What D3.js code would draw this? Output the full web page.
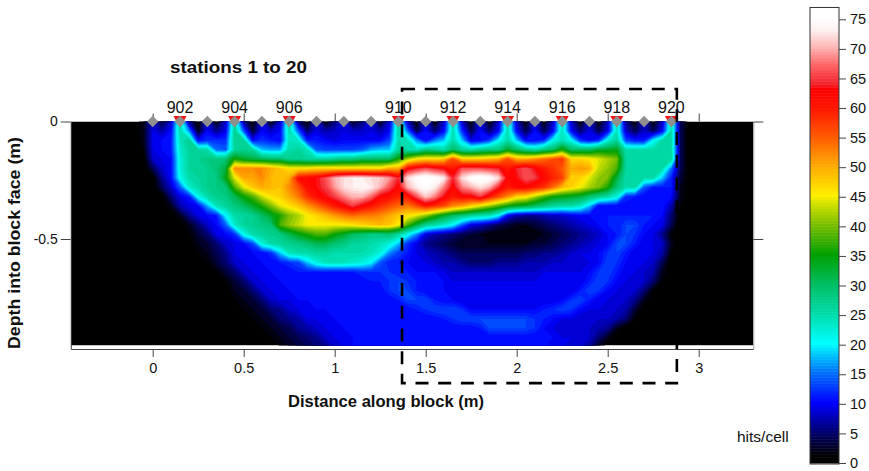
<!DOCTYPE html>
<html>
<head>
<meta charset="utf-8">
<script src="https://cdn.jsdelivr.net/npm/d3@7"></script>
<style>
html,body{margin:0;padding:0;background:#fff;}
svg{display:block;}
text{font-family:"Liberation Sans",Arial,sans-serif;fill:#111;}
</style>
</head>
<body>
<svg id="chart" width="869" height="471"></svg>
<script>
const gridX0 = -0.10, gridDx = 0.05, gridDy = 0.04;
const hitRows = [
[0,2,8,3,8,25,6,1,9,1,8,25,6,1,9,1,8,25,5,1,9,1,5,9,2,5,9,2,8,25,8,1,10,1,8,25,8,1,10,1,8,25,8,1,10,1,8,25,8,1,9,1,8,25,6,1,9,1,8,24,4,0,0],
[0,2,9,7,10,25,16,2,10,6,9,27,14,3,10,8,10,25,14,5,9,7,8,9,8,8,9,7,10,26,15,4,10,5,10,25,12,4,10,5,10,25,10,4,10,4,10,24,10,5,9,4,9,24,8,4,8,4,10,25,4,0,0],
[0,2,9,10,11,24,27,10,12,12,12,27,26,10,12,11,10,24,23,11,11,10,9,10,10,10,10,10,13,25,24,16,10,15,18,25,18,9,10,13,20,25,18,10,10,12,21,24,21,12,10,12,22,26,13,11,11,20,25,25,4,0,0],
[0,1,9,10,11,23,26,26,25,15,14,26,27,26,18,17,17,25,26,24,14,13,13,13,13,14,17,18,18,26,25,24,28,27,25,30,26,25,27,28,28,33,30,27,25,28,30,36,30,30,30,33,33,34,25,25,25,25,25,25,4,0,0],
[0,0,8,9,10,22,26,27,28,28,29,36,33,32,31,30,30,27,27,26,26,26,27,28,28,30,30,30,30,36,42,46,47,47,48,56,48,48,48,49,50,56,50,50,52,54,56,58,47,47,46,44,42,40,26,25,25,25,26,26,4,0,0],
[0,0,4,8,10,22,26,26,27,29,32,52,52,52,52,50,48,46,46,46,47,47,47,47,47,47,47,47,50,50,62,64,66,64,63,60,66,66,66,65,64,60,64,66,63,60,58,55,50,51,50,43,41,38,26,25,25,25,25,15,4,0,0],
[0,0,0,6,10,21,25,26,27,28,34,44,50,50,52,49,48,50,61,62,63,66,70,72,73,73,72,71,69,64,72,75,76,75,73,64,72,75,76,75,72,62,63,66,65,62,59,57,47,47,44,41,40,32,25,25,25,25,18,11,3,0,0],
[0,0,0,4,8,14,23,25,27,28,29,38,44,48,50,49,48,52,56,61,63,65,69,72,73,74,73,70,66,62,70,73,75,73,68,62,68,70,72,70,64,60,62,62,60,58,54,49,47,45,42,40,36,29,25,25,14,11,11,11,2,0,0],
[0,0,0,0,5,9,11,21,25,27,28,31,35,38,43,46,47,50,53,58,61,63,65,68,70,70,67,62,61,59,60,66,71,68,63,60,62,62,65,60,56,52,47,46,42,38,35,34,33,32,29,27,25,22,12,11,10,10,10,10,2,0,0],
[0,0,0,0,2,7,9,10,17,24,26,28,30,33,36,40,44,46,48,51,54,57,60,62,65,62,60,58,56,54,53,56,60,58,56,52,50,47,44,41,38,35,33,32,30,28,26,25,25,23,18,10,10,10,10,10,10,10,11,7,1,0,0],
[0,0,0,0,0,2,6,9,10,11,20,25,26,27,30,33,36,40,42,45,47,49,51,53,54,53,53,52,50,48,46,44,41,37,33,30,28,26,25,24,20,10,7,6,6,7,8,8,9,10,10,10,11,11,11,11,11,11,10,5,0,0,0],
[0,0,0,0,0,0,2,5,8,10,14,23,26,27,28,29,38,41,43,45,45,45,45,45,46,47,48,49,48,45,38,32,27,25,23,20,14,9,8,6,4,3,2,2,3,4,5,6,7,8,9,10,11,11,13,13,11,10,9,4,0,0,0],
[0,0,0,0,0,0,1,3,5,9,10,12,21,25,26,27,28,31,34,36,38,38,35,33,30,29,28,28,29,26,21,16,9,7,6,5,4,3,2,1,1,1,1,1,1,2,3,4,5,6,7,8,10,11,13,12,10,9,6,1,0,0,0],
[0,0,0,0,0,0,0,2,3,5,8,9,10,13,22,25,26,27,28,29,31,31,29,28,26,26,25,24,22,18,12,9,6,5,4,3,2,2,2,2,2,2,2,2,3,3,4,5,6,7,8,9,10,13,13,11,9,9,8,2,0,0,0],
[0,0,0,0,0,0,0,1,2,4,6,9,9,10,10,12,18,24,25,25,26,26,25,25,25,25,24,22,16,13,11,9,8,7,6,5,4,4,4,4,4,4,4,5,5,6,6,7,8,9,9,10,12,13,11,9,9,9,7,1,0,0,0],
[0,0,0,0,0,0,0,0,1,3,5,8,9,9,10,10,11,12,13,18,22,24,24,24,23,22,20,14,11,11,10,9,9,8,7,7,6,5,5,5,6,6,6,7,7,7,8,8,8,8,9,10,13,12,10,9,9,8,4,0,0,0,0],
[0,0,0,0,0,0,0,0,0,1,3,5,8,9,9,10,10,10,11,11,11,11,11,11,11,12,12,12,12,11,11,10,10,10,9,8,8,8,8,8,8,8,8,8,8,9,9,9,9,9,10,12,13,11,9,9,8,7,2,0,0,0,0],
[0,0,0,0,0,0,0,0,0,0,1,3,5,8,9,9,10,10,10,10,10,10,10,10,10,10,11,11,12,13,12,11,10,10,10,9,9,9,9,9,9,9,9,9,9,9,9,9,9,9,11,13,12,10,9,8,8,5,1,0,0,0,0],
[0,0,0,0,0,0,0,0,0,0,0,2,3,5,8,9,9,10,10,10,10,10,10,10,10,10,10,10,12,13,13,11,10,10,10,9,9,9,9,9,9,9,9,9,9,9,9,9,9,11,13,12,10,9,8,8,5,1,0,0,0,0,0],
[0,0,0,0,0,0,0,0,0,0,0,1,2,3,5,8,9,9,10,10,10,10,10,10,10,10,10,10,10,11,13,13,13,11,10,10,9,9,9,9,9,9,9,9,9,9,9,10,12,13,11,9,9,8,8,6,2,0,0,0,0,0,0],
[0,0,0,0,0,0,0,0,0,0,0,0,1,2,3,5,6,8,9,9,10,10,10,10,10,10,10,10,10,10,10,11,12,13,13,13,12,10,10,10,10,10,10,10,10,11,12,13,12,10,9,9,8,8,7,3,0,0,0,0,0,0,0],
[0,0,0,0,0,0,0,0,0,0,0,0,0,1,2,3,5,6,7,9,9,9,10,10,10,10,10,10,10,10,10,10,10,10,11,12,13,13,13,13,13,13,13,13,12,11,10,9,9,8,8,8,8,7,5,1,0,0,0,0,0,0,0],
[0,0,0,0,0,0,0,0,0,0,0,0,0,0,1,2,3,4,6,7,8,9,9,10,10,10,10,10,10,10,10,10,10,10,10,10,10,10,11,13,13,13,13,13,12,10,9,8,8,8,8,7,6,2,0,0,0,0,0,0,0,0,0],
[0,0,0,0,0,0,0,0,0,0,0,0,0,0,0,1,2,3,4,5,6,8,9,9,10,10,10,10,10,10,10,10,10,10,10,10,10,10,10,10,10,10,10,10,10,10,10,9,9,8,8,5,2,0,0,0,0,0,0,0,0,0,0],
[0,0,0,0,0,0,0,0,0,0,0,0,0,0,0,0,1,2,3,4,5,6,8,9,10,10,10,10,10,10,10,10,10,10,10,10,10,10,10,10,10,10,10,10,10,10,9,9,8,8,6,2,0,0,0,0,0,0,0,0,0,0,0]
];
const colorStops = [0,1,5,10,15,20,25,30,35,40,44,45,50,55,60,63,64,67,70,73,75,77];
const colorValues = ["#000000","#000000","#00006e","#0000ff","#006eff","#00ffff","#00dcaa","#00be64","#00a000","#78be00","#dce600","#fff000","#ffaa00","#ff5a00","#ff1400","#ff0000","#f02832","#ff6464","#ffb4b4","#fff0f0","#ffffff","#ffffff"];
const xTicks = [0,0.5,1,1.5,2,2.5,3];
const yTicks = [0,-0.5];
const legendTicks = d3.range(0,80,5);
const stationX = [0,0.15,0.3,0.45,0.6,0.75,0.9,1.05,1.2,1.35,1.5,1.65,1.8,1.95,2.1,2.25,2.4,2.55,2.7,2.85];
const sourceX = [0.15,0.45,0.75,1.35,1.65,1.95,2.25,2.55,2.85];
const sourceLabels = ["902","904","906","910","912","914","916","918","920"];
const boxX = [1.37,2.88];
const boxY = [0.138,-1.113];

const svg = d3.select("#chart");
const x = d3.scaleLinear().domain([-0.45,3.3]).range([70.8,753.3]);
const y = d3.scaleLinear().domain([0,-0.968]).range([121.5,349]);
const imageBottom = -0.953;
const color = d3.scaleLinear().domain(colorStops).range(colorValues).clamp(true);

const clip = svg.append("defs").append("clipPath").attr("id","img");
clip.append("rect").attr("x",x(-0.45)).attr("y",y(0)).attr("width",x(3.3)-x(-0.45)).attr("height",y(imageBottom)-y(0));

const img = svg.append("g").attr("clip-path","url(#img)");
img.append("rect").attr("x",x(-0.45)).attr("y",y(0)).attr("width",x(3.3)-x(-0.45)).attr("height",y(imageBottom)-y(0)).attr("fill","#000");

const nRows = hitRows.length, nCols = hitRows[0].length;
const contours = d3.contours().size([nCols,nRows]).smooth(true).thresholds(d3.range(1,77,1))(hitRows.flat());
const proj = d3.geoTransform({point(px,py){
  this.stream.point(x(gridX0+gridDx*(px-0.5)), y(-gridDy*(py-0.5)));
}});
const path = d3.geoPath(proj);
img.selectAll("path.band").data(contours).join("path").attr("class","band")
  .attr("d",path).attr("fill",d=>color(d.value+0.5));

const axisColor = "#444";
function styleAxis(g,size){
  g.selectAll("path.domain").attr("stroke",axisColor);
  g.selectAll("line").attr("stroke",axisColor);
  g.selectAll("text").style("font-size",size+"px").style("font-family",'"Liberation Sans",Arial,sans-serif').attr("fill","#111");
}
const gB = svg.append("g").attr("transform",`translate(0,${y(-0.968)})`)
  .call(d3.axisBottom(x).tickValues(xTicks).tickFormat(d=>String(d)).tickSize(8).tickSizeOuter(0));
gB.selectAll("text").attr("dy","0").attr("y",24);
styleAxis(gB,14.5);
const gL = svg.append("g").attr("transform",`translate(${x(-0.45)},0)`)
  .call(d3.axisLeft(y).tickValues(yTicks).tickFormat(d=>String(d)).tickSize(10).tickSizeOuter(0));
gL.selectAll("text").attr("x",-13);
styleAxis(gL,14);
const gR = svg.append("g").attr("transform",`translate(${x(3.3)},0)`)
  .call(d3.axisRight(y).tickValues(yTicks).tickFormat("").tickSize(10).tickSizeOuter(0));
styleAxis(gR,14);
gR.select("path.domain").attr("stroke","#999");
const gT = svg.append("g").attr("transform",`translate(0,${y(0)})`)
  .call(d3.axisTop(x).tickValues(xTicks).tickFormat("").tickSize(8).tickSizeOuter(0));
gT.select("path.domain").remove();
styleAxis(gT,14);

svg.append("g").selectAll("path").data(sourceX).join("path")
  .attr("d",d3.symbol(d3.symbolTriangle,75))
  .attr("transform",d=>`translate(${x(d)},${y(0)-1.8}) rotate(180)`).attr("fill","#f01414");
svg.append("g").selectAll("path").data(stationX).join("path")
  .attr("d",d3.symbol(d3.symbolSquare,64))
  .attr("transform",d=>`translate(${x(d)},${y(0)}) rotate(45)`).attr("fill","#8f8f8f");

svg.append("g").selectAll("text").data(sourceX).join("text")
  .attr("x",d=>x(d)).attr("y",113).attr("text-anchor","middle").style("font-size","16px")
  .text((d,i)=>sourceLabels[i]);

svg.append("rect").attr("x",x(boxX[0])).attr("y",y(boxY[0])).attr("width",x(boxX[1])-x(boxX[0])).attr("height",y(boxY[1])-y(boxY[0]))
  .attr("fill","none").attr("stroke","#000").attr("stroke-width",2.6).attr("stroke-dasharray","13,9.7");

svg.append("text").attr("x",170).attr("y",73).style("font-size","17px").style("font-weight","bold")
  .attr("textLength",137).attr("lengthAdjust","spacingAndGlyphs").text("stations 1 to 20");
svg.append("text").attr("x",288).attr("y",407).style("font-size","16.5px").style("font-weight","bold")
  .attr("textLength",196).attr("lengthAdjust","spacingAndGlyphs").text("Distance along block (m)");
svg.append("text").attr("transform","translate(20,349) rotate(-90)").style("font-size","16.5px").style("font-weight","bold")
  .attr("textLength",212).attr("lengthAdjust","spacingAndGlyphs").text("Depth into block face (m)");
svg.append("text").attr("x",737).attr("y",442).style("font-size","15.5px").text("hits/cell");

const ly = d3.scaleLinear().domain([0,75]).range([463,19.3]);
const steps = d3.range(0,77,0.5);
svg.append("g").selectAll("rect").data(steps).join("rect")
  .attr("x",810).attr("width",29).attr("y",d=>ly(d+0.5)).attr("height",d=>ly(d)-ly(d+0.5)+0.5)
  .attr("fill",d=>color(d));
svg.append("rect").attr("x",810).attr("width",29).attr("y",ly(77)).attr("height",ly(0)-ly(77)+1).attr("fill","none").attr("stroke","#333");
const gC = svg.append("g").attr("transform","translate(839,0)")
  .call(d3.axisRight(ly).tickValues(legendTicks).tickFormat(d=>String(d)).tickSize(7).tickSizeOuter(0));
gC.select("path.domain").remove();
gC.selectAll("text").attr("x",11);
styleAxis(gC,14.5);
</script>
</body>
</html>
